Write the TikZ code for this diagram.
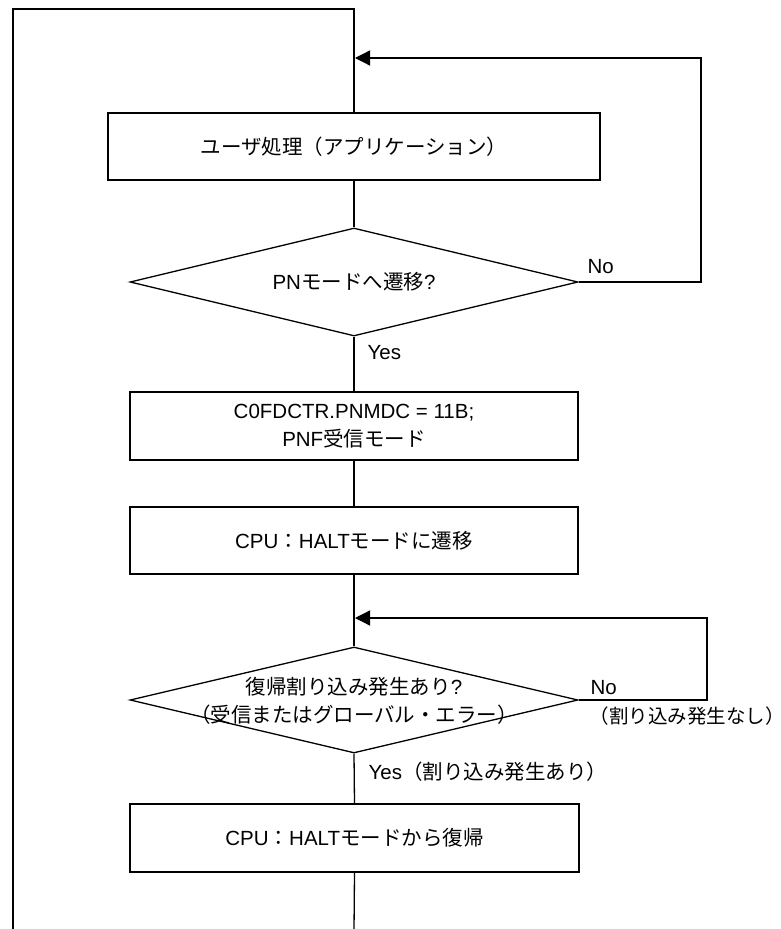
\documentclass[tikz,border=0pt]{standalone}
\usepackage{fontspec}
\setmainfont{Liberation Sans}
\newfontfamily\jpfont{Noto Sans CJK JP}
\newcommand\jt[1]{{\jpfont #1}}
\newcommand\lpar{{\jpfont ^^^^ff08}}
\newcommand\rpar{{\jpfont ^^^^ff09}}
\newcommand\jcolon{{\jpfont ^^^^ff1a}}
\usetikzlibrary{shapes.geometric,arrows.meta}
\begin{document}
\begin{tikzpicture}[x=1pt,y=-1pt,line width=1.3pt,
  every node/.style={font=\fontsize{20.5}{27.5}\selectfont,inner sep=0pt},
  procbox/.style={draw,rectangle,minimum height=67pt},
  decision/.style={draw,diamond,minimum width=448pt,minimum height=108pt},
  lbl/.style={anchor=west},
  arr/.style={-{Triangle[length=15pt,width=15pt]}}]
\useasboundingbox (0,0) rectangle (781,929);

% boxes and decisions
\node[procbox,minimum width=492pt] (b1) at (354,146.5) {\jt{ユーザ処理}\lpar\jt{アプリケーション}\rpar};
\node[decision] (d1) at (354,282) {};
\node (d1t) at (354,282) {PN\jt{モードへ遷移}?};
\node[procbox,minimum width=448pt,minimum height=68pt,align=center] (b2) at (354,426)
  {C0FDCTR.PNMDC = 11B;\\PNF\jt{受信モード}};
\node[procbox,minimum width=448pt] (b3) at (354,540.5) {CPU\jcolon HALT\jt{モードに遷移}};
\node[decision,minimum height=106pt] (d2) at (354,700) {};
\node (d2a) at (354,687) {\jt{復帰割り込み発生あり}?};
\node (d2b) at (354,715) {\lpar\jt{受信またはグローバル・エラー}\rpar};
\node[procbox,minimum width=449pt,minimum height=68pt] (b4) at (354.5,838) {CPU\jcolon HALT\jt{モードから復帰}};

% labels
\node[lbl] (no1) at (587,267) {No};
\node[lbl] (yes1) at (367,353) {Yes};
\node[lbl] (no2) at (590,688) {No};
\node[lbl,font=\fontsize{19.5}{24}\selectfont] (nn) at (589,716) {\lpar\jt{割り込み発生なし}\rpar};
\node[lbl] (yes2) at (368,772) {Yes\lpar\jt{割り込み発生あり}\rpar};

% coordinates
\coordinate (bl) at (13,931);
\coordinate (tl) at (13,9);
\coordinate (mt) at (354,9);
\coordinate (r1) at (701,58);
\coordinate (j1) at (355,58);
\coordinate (r2) at (707,618);
\coordinate (j2) at (355,618);
\coordinate (be) at (354,931);

% connectors
\draw (bl) -- (tl) -- (mt) -- (b1.north);
\draw (b1.south) -- (d1.north);
\draw[arr] (d1.east) -| (r1) -- (j1);
\draw (d1.south) -- (b2.north);
\draw (b2.south) -- (b3.north);
\draw (b3.south) -- (d2.north);
\draw[arr] (d2.east) -| (r2) -- (j2);
\draw (d2.south) -- (b4.north);
\draw (b4.south) -- (be);
\end{tikzpicture}
\end{document}
